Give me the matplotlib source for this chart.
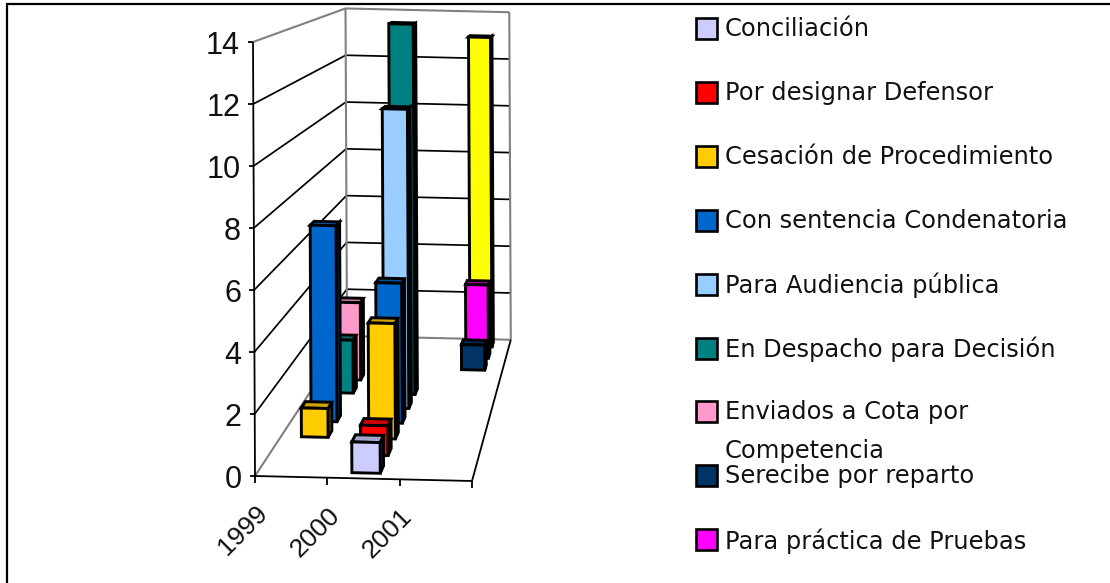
import matplotlib
matplotlib.use("Agg")
import matplotlib.pyplot as plt
import numpy as np
from matplotlib.patches import Polygon, Rectangle

years = ["1999", "2000", "2001"]
y_ticks = [0, 2, 4, 6, 8, 10, 12, 14]

# front to back, one value per year
conciliacion = [0, 1, 0]
por_designar = [0, 1, 0]
cesacion = [1, 4, 0]
con_sentencia = [7, 5, 0]
para_audiencia = [0, 11, 0]
en_despacho = [2, 14, 0]
enviados_cota = [3, 0, 0]
se_recibe = [0, 0, 1]
para_pruebas = [0, 0, 3]
sin_leyenda = [0, 0, 13]  # yellow series, the legend is cut off before it

series = [conciliacion, por_designar, cesacion, con_sentencia, para_audiencia,
          en_despacho, enviados_cota, se_recibe, para_pruebas, sin_leyenda]
colors = ["#CCCCFF", "#FF0000", "#FFCC00", "#0066CC", "#99CCFF",
          "#008080", "#FF99CC", "#003366", "#FF00FF", "#FFFF00"]
legend_labels = ["Conciliación", "Por designar Defensor", "Cesación de Procedimiento",
                 "Con sentencia Condenatoria", "Para Audiencia pública",
                 "En Despacho para Decisión", "Enviados a Cota por\nCompetencia",
                 "Serecibe por reparto", "Para práctica de Pruebas"]

W, H = 1110, 583
GRID = "#000000"
WALL = "#808080"

# perspective of the chart box, in pixels of the picture
ORIGIN = np.array([255.0, 476.0])
X_VEC = np.array([217.0, 5.0])
Z_VEC = np.array([-2.0, -434.0])
D_VEC = np.array([204.8, -30.8])
PERSP = 0.325


def project(x, d, z):
  # x and d go 0..1 across the box, z is the chart value
  p = ORIGIN + x * X_VEC + d * D_VEC + (z / max(y_ticks)) * Z_VEC
  return p / (1 + PERSP * d)


def shade(color, f):
  r, g, b = matplotlib.colors.to_rgb(color)
  return (r * f, g * f, b * f)


def draw_bar(ax, cat, idx, val, color, zorder):
  n_cat = len(years)
  n_ser = len(series)
  xc = (cat + 0.5) / n_cat
  x0, x1 = xc - 0.066, xc + 0.066
  d0 = (idx + 0.3) / n_ser
  d1 = d0 + 0.042
  front = [project(x0, d0, 0), project(x1, d0, 0), project(x1, d0, val), project(x0, d0, val)]
  side = [project(x1, d0, 0), project(x1, d1, 0), project(x1, d1, val), project(x1, d0, val)]
  top = [project(x0, d0, val), project(x1, d0, val), project(x1, d1, val), project(x0, d1, val)]
  for pts, f in [(side, 0.6), (top, 0.8), (front, 1.0)]:
    ax.add_patch(Polygon(pts, closed=True, facecolor=shade(color, f), edgecolor="black",
                         linewidth=2.1, joinstyle="miter", zorder=zorder))


def line(ax, a, b, color, lw=1.0, zorder=2):
  ax.plot([a[0], b[0]], [a[1], b[1]], color=color, linewidth=lw, zorder=zorder,
          solid_capstyle="butt")


fig = plt.figure(figsize=(W / 100, H / 100), dpi=100)
ax = fig.add_axes([0, 0, 1, 1])
ax.set_xlim(0, W)
ax.set_ylim(H, 0)
ax.axis("off")

# outer frame, only top and left show
line(ax, (7, H), (7, 4), "black", 1.6)
line(ax, (6, 4), (W, 4), "black", 1.6)

# walls and gridlines
for t in y_ticks[1:-1]:
  line(ax, project(0, 0, t), project(0, 1, t), GRID, 1.25)
  line(ax, project(0, 1, t), project(1, 1, t), GRID, 1.25)
line(ax, project(0, 0, 14), project(0, 1, 14), WALL, 1.5)
line(ax, project(0, 1, 14), project(1, 1, 14), WALL, 1.5)
line(ax, project(0, 1, 0), project(0, 1, 14), WALL, 1.5)
line(ax, project(1, 1, 0), project(1, 1, 14), WALL, 1.5)
line(ax, project(0, 1, 0), project(1, 1, 0), WALL, 1.5)
line(ax, project(0, 0, 0), project(0, 1, 0), WALL, 1.5)

# front axes
line(ax, project(0, 0, 0), project(0, 0, 14), "black", 1.3)
line(ax, project(0, 0, 0), project(1, 0, 0), "black", 1.3)
line(ax, project(1, 0, 0), project(1, 1, 0), "black", 1.3)
for t in y_ticks:
  p = project(0, 0, t)
  line(ax, p, p + np.array([-5, 0]), "black", 1.3)
  ax.text(p[0] - 13, p[1], str(t), ha="right", va="center_baseline", fontsize=22,
          family="Liberation Sans", color="#111111")
for i in range(len(years) + 1):
  p = project(i / len(years), 0, 0)
  line(ax, p, p + np.array([0, 7]), "black", 1.3)
  if i < len(years):
    ax.text(p[0], p[1] + 25, years[i], ha="right", va="top", rotation=45,
            rotation_mode="anchor", fontsize=19, family="Liberation Sans", color="#111111")

# bars, back to front so the near ones cover the far ones
for idx in range(len(series) - 1, -1, -1):
  for cat, val in enumerate(series[idx]):
    if val > 0:
      draw_bar(ax, cat, idx, val, colors[idx], 10 + (len(series) - idx) * 3)

# legend
for i, label in enumerate(legend_labels):
  row = 28 + i * 63.9
  ax.add_patch(Rectangle((696, row - 10), 21, 21, facecolor=colors[i], edgecolor="black",
                         linewidth=1.9, zorder=5))
  ax.text(725, row - 11, label, ha="left", va="top", fontsize=17.4, family="DejaVu Sans",
          color="#111111", linespacing=1.75)

fig.savefig("out.png", dpi=100)
